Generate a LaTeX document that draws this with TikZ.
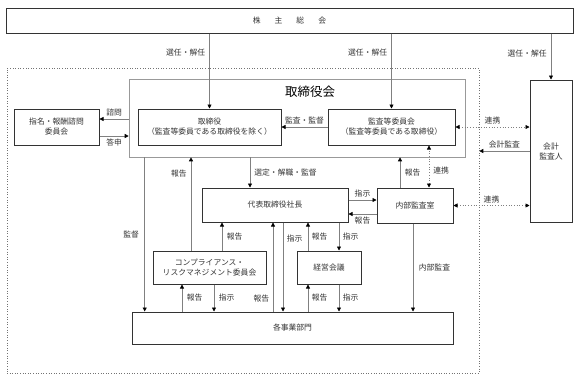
\documentclass[tikz,border=0pt]{standalone}
\usepackage{fontspec}
\setmainfont{Noto Sans CJK JP}
\usetikzlibrary{arrows.meta}

\begin{document}
\begin{tikzpicture}[x=1pt, y=-1pt,
  box/.style={rectangle, draw=black!80, line width=1pt, align=center, inner sep=0pt,
              font=\fontsize{7.8}{10}\selectfont, text=black!80},
  frame/.style={rectangle, draw=black!40, line width=0.6pt, inner sep=0pt},
  lbl/.style={font=\fontsize{7.8}{10}\selectfont, text=black!80, inner sep=1.5pt},
  line/.style={draw=black!50, line width=0.7pt},
  arrow/.style={line, -{Triangle[length=4pt, width=4pt, color=black]}},
  link/.style={line, dotted, {Triangle[length=4pt, width=4pt, color=black]}-{Triangle[length=4pt, width=4pt, color=black]}}
]
\useasboundingbox (0,0) rectangle (580,381);

% frames
\node[frame, dotted, draw=black!55, minimum width=472pt, minimum height=305pt] (group) at (243,220.5) {};
\node[frame, minimum width=336pt, minimum height=78pt] (board) at (297,118) {};
\node[font=\fontsize{12.5}{14}\selectfont] (title) at (310,92) {取締役会};

% boxes
\node[box, minimum width=567pt, minimum height=25pt] (agm) at (289.5,20.5)
  {株\hspace{14pt}主\hspace{14pt}総\hspace{14pt}会};
\node[box, minimum width=85pt, minimum height=36pt] (nomcom) at (56.5,127)
  {指名・報酬諮問\\委員会};
\node[box, minimum width=143pt, minimum height=36pt] (director) at (209.5,127)
  {取締役\\（監査等委員である取締役を除く）};
\node[box, minimum width=127pt, minimum height=36pt] (auditcom) at (391.5,127)
  {監査等委員会\\（監査等委員である取締役）};
\node[box, minimum width=42pt, minimum height=142pt] (auditor) at (551,151)
  {会計\\監査人};
\node[box, minimum width=146pt, minimum height=34pt] (ceo) at (275,205) {代表取締役社長};
\node[box, minimum width=76pt, minimum height=35pt] (internal) at (415,205.5) {内部監査室};
\node[box, minimum width=113pt, minimum height=33pt] (compliance) at (209.5,267.5)
  {コンプライアンス・\\リスクマネジメント委員会};
\node[box, minimum width=64pt, minimum height=33pt] (mgmt) at (329,267.5) {経営会議};
\node[box, minimum width=321pt, minimum height=32pt] (dept) at (292.5,328) {各事業部門};

% shareholders
\draw[arrow] (director.north |- agm.south) -- node[lbl, left=2.5pt, pos=0.26] {選任・解任} (director.north);
\draw[arrow] (auditcom.north |- agm.south) -- node[lbl, left=2.5pt, pos=0.26] {選任・解任} (auditcom.north);
\draw[arrow] (auditor.north |- agm.south) -- node[lbl, left=2.5pt, pos=0.43] {選任・解任} (auditor.north);

% board
\draw[arrow] (auditcom.west) -- node[lbl, above=1pt] {監査・監督} (director.east);
\draw[arrow] ([yshift=8pt]nomcom.east -| board.west) -- node[lbl, above=1pt] {諮問} ([yshift=8pt]nomcom.east);
\draw[arrow] ([yshift=-9pt]nomcom.east) -- node[lbl, below=1pt] {答申} ([yshift=-9pt]nomcom.east -| board.west);
\draw[arrow] ([xshift=-25pt]ceo.north |- board.south) -- node[lbl, right=2.5pt] {選定・解職・監督} ([xshift=-25pt]ceo.north);
\draw[arrow] ([xshift=16pt]board.south west) -- node[lbl, left=4pt] {監督} ([xshift=16pt]board.south west |- dept.north);

% auditor
\draw[link] (auditcom.east) -- node[lbl, above=1pt] {連携} (auditor.west |- auditcom.east);
\draw[arrow] (auditor.west) -- node[lbl, above=1pt] {会計監査} (auditor.west -| group.east);
\draw[link] (internal.east) -- node[lbl, above=1pt] {連携} (auditor.west |- internal.east);

% internal audit
\draw[link] ([xshift=14pt]internal.north) -- node[lbl, right=2.5pt, pos=0.4] {連携} ([xshift=14pt]internal.north |- auditcom.south);
\draw[arrow] ([xshift=-15pt]internal.north) -- node[lbl, right=3pt] {報告} ([xshift=-15pt]internal.north |- board.south);
\draw[arrow] ([yshift=5pt]ceo.east) -- node[lbl, above=1pt] {指示} ([yshift=5pt]ceo.east -| internal.west);
\draw[arrow] ([yshift=-9pt]ceo.east -| internal.west) -- node[lbl, below=1pt] {報告} ([yshift=-9pt]ceo.east);
\draw[arrow] ([xshift=-2pt]internal.south) -- node[lbl, right=4pt] {内部監査} ([xshift=-2pt]internal.south |- dept.north);

% committees
\draw[arrow] ([xshift=-18.5pt]compliance.north) -- node[lbl, left=2.5pt, pos=0.83] {報告} ([xshift=-18.5pt]compliance.north |- board.south);
\draw[arrow] ([xshift=12.5pt]compliance.north) -- node[lbl, right=3pt] {報告} ([xshift=12.5pt]compliance.north |- ceo.south);
\draw[arrow] ([xshift=-21pt]mgmt.north) -- node[lbl, right=2pt] {報告} ([xshift=-21pt]mgmt.north |- ceo.south);
\draw[arrow] ([xshift=10pt]mgmt.north |- ceo.south) -- node[lbl, right=2pt] {指示} ([xshift=10pt]mgmt.north);

% departments
\draw[arrow] ([xshift=-2pt]ceo.south |- dept.north) -- node[lbl, left=2pt, pos=0.14] {報告} ([xshift=-2pt]ceo.south);
\draw[arrow] ([xshift=8pt]ceo.south) -- node[lbl, right=2pt, pos=0.18] {指示} ([xshift=8pt]ceo.south |- dept.north);
\draw[arrow] ([xshift=-27.5pt]compliance.south |- dept.north) -- node[lbl, right=3pt] {報告} ([xshift=-27.5pt]compliance.south);
\draw[arrow] ([xshift=4.5pt]compliance.south) -- node[lbl, right=3pt] {指示} ([xshift=4.5pt]compliance.south |- dept.north);
\draw[arrow] ([xshift=-21pt]mgmt.south |- dept.north) -- node[lbl, right=2pt] {報告} ([xshift=-21pt]mgmt.south);
\draw[arrow] ([xshift=10pt]mgmt.south) -- node[lbl, right=2pt] {指示} ([xshift=10pt]mgmt.south |- dept.north);

\end{tikzpicture}
\end{document}
